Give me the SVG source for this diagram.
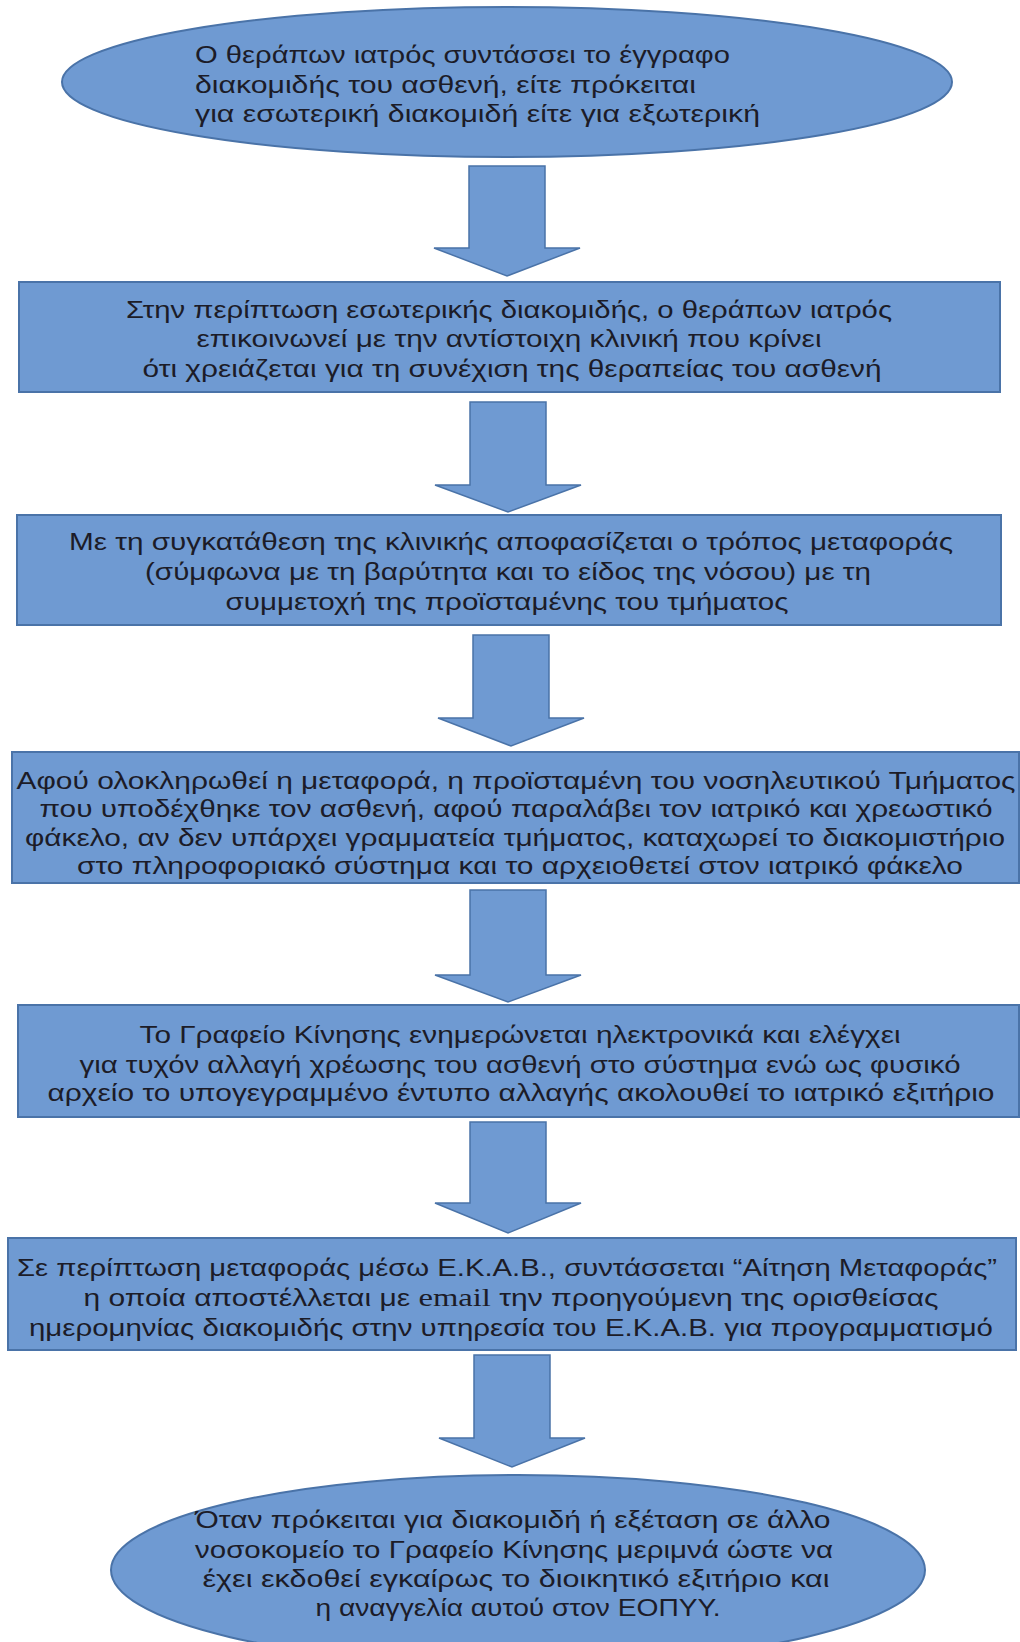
<svg xmlns="http://www.w3.org/2000/svg" width="1020" height="1642" viewBox="0 0 1020 1642">
<defs>
<style>
.shape{fill:#6f9ad2;stroke:#4a73a8;stroke-width:2}
.arrow{fill:#6f9ad2;stroke:#4a73a8;stroke-width:1.5}
text{font-family:"Liberation Sans","DejaVu Sans",sans-serif;font-size:23px;fill:#1c1c28}
.c{text-anchor:middle}
.serif{font-family:"Liberation Serif",serif;font-size:25px}
</style>
</defs>
<rect width="1020" height="1642" fill="#ffffff"/>
<g id="connectors">
<polygon class="arrow" points="469,166 545,166 545,248 580,248 507,276 434,248 469,248"/>
<polygon class="arrow" points="470,402 546,402 546,485 581,485 508,512 435,485 470,485"/>
<polygon class="arrow" points="473,635 549,635 549,718 584,718 511,746 438,718 473,718"/>
<polygon class="arrow" points="470,890 546,890 546,975 581,975 508,1002 435,975 470,975"/>
<polygon class="arrow" points="470,1122 546,1122 546,1203 581,1203 508,1233 435,1203 470,1203"/>
<polygon class="arrow" points="474,1355 550,1355 550,1438 585,1438 512,1467 439,1438 474,1438"/>
</g>
<g id="node1">
<ellipse class="shape" cx="507" cy="82" rx="445" ry="75"/>
<text x="195" y="63" textLength="535" lengthAdjust="spacingAndGlyphs">Ο θεράπων ιατρός συντάσσει το έγγραφο</text>
<text x="195" y="93" textLength="501" lengthAdjust="spacingAndGlyphs">διακομιδής του ασθενή, είτε πρόκειται</text>
<text x="195" y="122" textLength="565" lengthAdjust="spacingAndGlyphs">για εσωτερική διακομιδή είτε για εξωτερική</text>
</g>
<g id="node2">
<rect class="shape" x="19" y="282" width="981" height="110"/>
<text class="c" x="509" y="318" textLength="766" lengthAdjust="spacingAndGlyphs">Στην περίπτωση εσωτερικής διακομιδής, ο θεράπων ιατρός</text>
<text class="c" x="509" y="347" textLength="625" lengthAdjust="spacingAndGlyphs">επικοινωνεί με την αντίστοιχη κλινική που κρίνει</text>
<text class="c" x="512" y="377" textLength="739" lengthAdjust="spacingAndGlyphs">ότι χρειάζεται για τη συνέχιση της θεραπείας του ασθενή</text>
</g>
<g id="node3">
<rect class="shape" x="17" y="515" width="984" height="110"/>
<text class="c" x="511" y="550" textLength="884" lengthAdjust="spacingAndGlyphs">Με τη συγκατάθεση της κλινικής αποφασίζεται ο τρόπος μεταφοράς</text>
<text class="c" x="508" y="580" textLength="726" lengthAdjust="spacingAndGlyphs">(σύμφωνα με τη βαρύτητα και το είδος της νόσου) με τη</text>
<text class="c" x="507" y="610" textLength="563" lengthAdjust="spacingAndGlyphs">συμμετοχή της προϊσταμένης του τμήματος</text>
</g>
<g id="node4">
<rect class="shape" x="12" y="752" width="1007" height="131"/>
<text class="c" x="516" y="789" textLength="999" lengthAdjust="spacingAndGlyphs">Αφού ολοκληρωθεί η μεταφορά, η προϊσταμένη του νοσηλευτικού Τμήματος</text>
<text class="c" x="516" y="817" textLength="953" lengthAdjust="spacingAndGlyphs">που υποδέχθηκε τον ασθενή, αφού παραλάβει τον ιατρικό και χρεωστικό</text>
<text class="c" x="515" y="846" textLength="980" lengthAdjust="spacingAndGlyphs">φάκελο, αν δεν υπάρχει γραμματεία τμήματος, καταχωρεί το διακομιστήριο</text>
<text class="c" x="520" y="874" textLength="886" lengthAdjust="spacingAndGlyphs">στο πληροφοριακό σύστημα και το αρχειοθετεί στον ιατρικό φάκελο</text>
</g>
<g id="node5">
<rect class="shape" x="18" y="1005" width="1001" height="112"/>
<text class="c" x="520" y="1043" textLength="761" lengthAdjust="spacingAndGlyphs">Το Γραφείο Κίνησης ενημερώνεται ηλεκτρονικά και ελέγχει</text>
<text class="c" x="520" y="1073" textLength="881" lengthAdjust="spacingAndGlyphs">για τυχόν αλλαγή χρέωσης του ασθενή στο σύστημα ενώ ως φυσικό</text>
<text class="c" x="521" y="1101" textLength="947" lengthAdjust="spacingAndGlyphs">αρχείο το υπογεγραμμένο έντυπο αλλαγής ακολουθεί το ιατρικό εξιτήριο</text>
</g>
<g id="node6">
<rect class="shape" x="8" y="1238" width="1008" height="112"/>
<text class="c" x="507" y="1276" textLength="980" lengthAdjust="spacingAndGlyphs">Σε περίπτωση μεταφοράς μέσω Ε.Κ.Α.Β., συντάσσεται “Αίτηση Μεταφοράς”</text>
<text class="c" x="511" y="1306" textLength="855" lengthAdjust="spacingAndGlyphs">η οποία αποστέλλεται με <tspan class="serif">email</tspan> την προηγούμενη της ορισθείσας</text>
<text class="c" x="511" y="1336" textLength="964" lengthAdjust="spacingAndGlyphs">ημερομηνίας διακομιδής στην υπηρεσία του Ε.Κ.Α.Β. για προγραμματισμό</text>
</g>
<g id="node7">
<ellipse class="shape" cx="518" cy="1570" rx="407" ry="95"/>
<text class="c" x="513" y="1528" textLength="635" lengthAdjust="spacingAndGlyphs">Όταν πρόκειται για διακομιδή ή εξέταση σε άλλο</text>
<text class="c" x="514" y="1558" textLength="638" lengthAdjust="spacingAndGlyphs">νοσοκομείο το Γραφείο Κίνησης μεριμνά ώστε να</text>
<text class="c" x="516" y="1587" textLength="627" lengthAdjust="spacingAndGlyphs">έχει εκδοθεί εγκαίρως το διοικητικό εξιτήριο και</text>
<text class="c" x="518" y="1616" textLength="405" lengthAdjust="spacingAndGlyphs">η αναγγελία αυτού στον ΕΟΠΥΥ.</text>
</g>
</svg>
